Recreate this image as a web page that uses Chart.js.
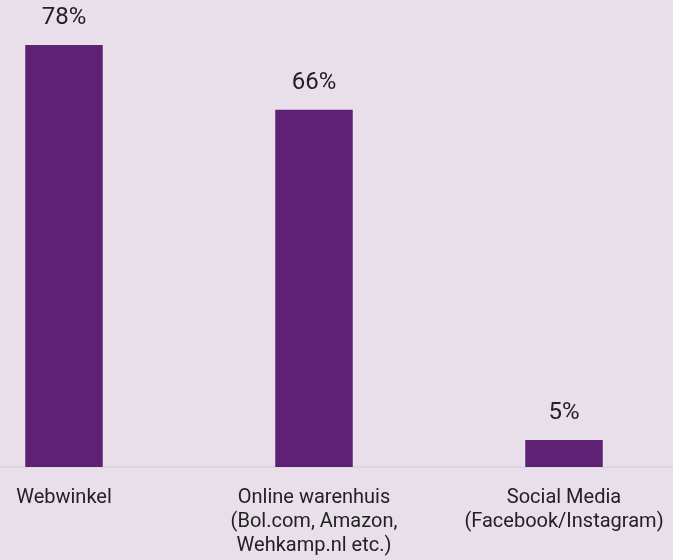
<!DOCTYPE html>
<html>
<head>
<meta charset="utf-8">
<script src="https://cdn.jsdelivr.net/npm/chart.js@4/dist/chart.umd.min.js"></script>
<style>
  html, body { margin: 0; padding: 0; background: #e9dfeb; overflow: hidden; }
  #wrap { position: relative; width: 750px; height: 577px; margin-left: -61px; }
</style>
</head>
<body>
<div id="wrap"><canvas id="chart"></canvas></div>
<script>
// Channels and share of respondents (%)
const categories = [
  ['Webwinkel'],
  ['Online warenhuis', '(Bol.com, Amazon,', 'Wehkamp.nl etc.)'],
  ['Social Media', '(Facebook/Instagram)']
];
const values = [78, 66, 5];

// draws "78%" style labels above each bar
const valueLabels = {
  id: 'valueLabels',
  afterDatasetsDraw(chart) {
    const ctx = chart.ctx;
    const meta = chart.getDatasetMeta(0);
    ctx.save();
    ctx.font = '24px Roboto';
    ctx.fillStyle = '#222222';
    ctx.textAlign = 'center';
    ctx.textBaseline = 'middle';
    meta.data.forEach((bar, i) => {
      ctx.fillText(values[i] + '%', bar.x, bar.y - 27);
    });
    ctx.restore();
  }
};

new Chart(document.getElementById('chart'), {
  type: 'bar',
  data: {
    labels: categories,
    datasets: [{
      data: values,
      backgroundColor: '#5e2173',
      borderWidth: 0,
      categoryPercentage: 1,
      barPercentage: 0.31
    }]
  },
  options: {
    responsive: true,
    maintainAspectRatio: false,
    animation: false,
    layout: { padding: 0 },
    plugins: { legend: { display: false }, tooltip: { enabled: false } },
    scales: {
      y: { display: false, min: 0, max: 86.3 },
      x: {
        grid: { display: false, drawTicks: false },
        border: { display: true, color: '#dcd6df', width: 2 },
        ticks: {
          color: '#222222',
          padding: 19,
          maxRotation: 0,
          autoSkip: false,
          font: { family: 'Roboto', size: 20, lineHeight: '24px' }
        }
      }
    }
  },
  plugins: [valueLabels]
});
</script>
</body>
</html>
